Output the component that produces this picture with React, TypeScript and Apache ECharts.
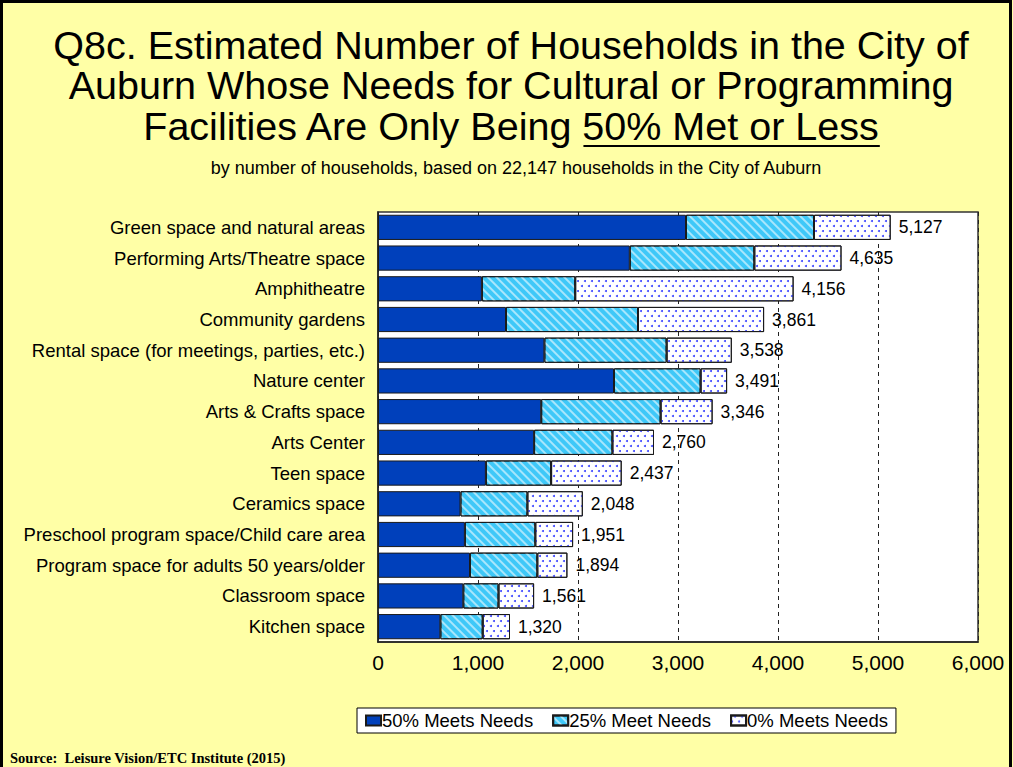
import React, { useEffect, useRef } from "react";
import * as echarts from "echarts";

const categories = [
  "Green space and natural areas",
  "Performing Arts/Theatre space",
  "Amphitheatre",
  "Community gardens",
  "Rental space (for meetings, parties, etc.)",
  "Nature center",
  "Arts & Crafts space",
  "Arts Center",
  "Teen space",
  "Ceramics space",
  "Preschool program space/Child care area",
  "Program space for adults 50 years/older",
  "Classroom space",
  "Kitchen space",
];
const met50 = [3080, 2518, 1039, 1280, 1664, 2360, 1632, 1561, 1079, 825, 869, 920, 853, 624];
const met25 = [1280, 1245, 933, 1320, 1222, 866, 1194, 783, 652, 669, 704, 673, 352, 423];
const met0 = [767, 872, 2184, 1261, 652, 265, 520, 416, 706, 554, 378, 301, 356, 273];
const totals = [5127, 4635, 4156, 3861, 3538, 3491, 3346, 2760, 2437, 2048, 1951, 1894, 1561, 1320];
const seriesNames = ["50% Meets Needs", "25% Meet Needs", "0% Meets Needs"];

const FONT = "'Liberation Sans', Arial, sans-serif";
const BG = "#ffffa6";

function fmt(n: number) {
  return n.toLocaleString("en-US");
}

export default function App() {
  const ref = useRef<HTMLDivElement>(null);
  useEffect(() => {
    document.body.style.margin = "0";
    if (!ref.current) return;
    const chart = echarts.init(ref.current, undefined, { renderer: "svg" });

    const titleFont = `39.5px ${FONT}`;
    const cv = document.createElement("canvas").getContext("2d")!;
    cv.font = titleFont;
    const line3a = "Facilities Are Only Being ";
    const line3b = "50% Met or Less";
    const wA = cv.measureText(line3a).width;
    const wB = cv.measureText(line3b).width;
    const cx = 511;
    const startX = cx - (wA + wB) / 2;
    const ulX1 = startX + wA;
    const ulX2 = ulX1 + wB;

    const borderStyle = { borderColor: "#1a1a1a", borderWidth: 1 };

    chart.setOption({
      animation: false,
      backgroundColor: BG,
      textStyle: { fontFamily: FONT },
      grid: { left: 378, right: 35, top: 212, bottom: 125, show: true, backgroundColor: "#ffffff", borderColor: "#333", borderWidth: 1.5, containLabel: false },
      legend: {
        data: seriesNames,
        left: 357,
        top: 708,
        padding: [3, 8, 3, 8],
        itemGap: 19,
        itemWidth: 15,
        itemHeight: 10,
        backgroundColor: "#ffffff",
        borderColor: "#000",
        borderWidth: 1,
        textStyle: { fontSize: 18.5, color: "#000", fontFamily: FONT, padding: [0, 0, 0, -4] },
        icon: "rect",
      },
      xAxis: {
        type: "value",
        min: 0,
        max: 6000,
        interval: 1000,
        axisLabel: { fontSize: 21, color: "#000", margin: 10, formatter: (v: number) => fmt(v) },
        axisLine: { show: true, lineStyle: { color: "#222", width: 1.5 } },
        axisTick: { show: false },
        splitLine: { show: true, lineStyle: { color: "#222", type: [4, 4], width: 1 } },
      },
      yAxis: {
        type: "category",
        inverse: true,
        data: categories,
        axisLabel: { fontSize: 18.5, color: "#000", margin: 13 },
        axisLine: { show: true, lineStyle: { color: "#222", width: 1.5 } },
        axisTick: { show: false },
      },
      series: [
        {
          name: seriesNames[0],
          type: "bar",
          stack: "s",
          data: met50,
          barCategoryGap: "18%",
          itemStyle: { color: "#0040bb", ...borderStyle },
        },
        {
          name: seriesNames[1],
          type: "bar",
          stack: "s",
          data: met25,
          itemStyle: {
            color: "#3fc8f8",
            ...borderStyle,
            decal: { symbol: "rect", symbolSize: 1, color: "rgba(255,255,255,0.55)", dashArrayX: [1, 0], dashArrayY: [1.2, 3.3], rotation: Math.PI / 4 },
          },
        },
        {
          name: seriesNames[2],
          type: "bar",
          stack: "s",
          data: met0,
          itemStyle: {
            color: "#ffffff",
            ...borderStyle,
            decal: { symbol: "circle", symbolSize: 1, color: "#3a44ff", dashArrayX: [[1.4, 4.6], [0, 3, 1.4, 1.6]], dashArrayY: [1.4, 2.1], rotation: 0 },
          },
          label: {
            show: true,
            position: "right",
            distance: 8,
            fontSize: 17.5,
            color: "#000",
            fontFamily: FONT,
            formatter: (p: any) => fmt(totals[p.dataIndex]),
          },
        },
      ],
      graphic: [
        { type: "rect", shape: { x: 1.5, y: 1.5, width: 1009, height: 800 }, style: { fill: "none", stroke: "#000", lineWidth: 3 }, silent: true },
        { type: "text", x: cx, y: 45, style: { text: "Q8c. Estimated Number of Households in the City of", font: titleFont, fill: "#000", textAlign: "center", textVerticalAlign: "middle" } },
        { type: "text", x: cx, y: 85, style: { text: "Auburn Whose Needs for Cultural or Programming", font: titleFont, fill: "#000", textAlign: "center", textVerticalAlign: "middle" } },
        { type: "text", x: cx, y: 126, style: { text: line3a + line3b, font: titleFont, fill: "#000", textAlign: "center", textVerticalAlign: "middle" } },
        { type: "line", shape: { x1: ulX1, y1: 146, x2: ulX2, y2: 146 }, style: { stroke: "#000", lineWidth: 2 } },
        { type: "text", x: 516, y: 168, style: { text: "by number of households, based on 22,147 households in the City of Auburn", font: `18px ${FONT}`, fill: "#000", textAlign: "center", textVerticalAlign: "middle" } },
        { type: "text", x: 10, y: 758, style: { text: "Source:  Leisure Vision/ETC Institute (2015)", font: `bold 14.5px 'Liberation Serif', 'Times New Roman', serif`, fill: "#000", textAlign: "left", textVerticalAlign: "middle" } },
      ],
    });
    return () => chart.dispose();
  }, []);
  return <div ref={ref} style={{ width: 1013, height: 767 }} />;
}
